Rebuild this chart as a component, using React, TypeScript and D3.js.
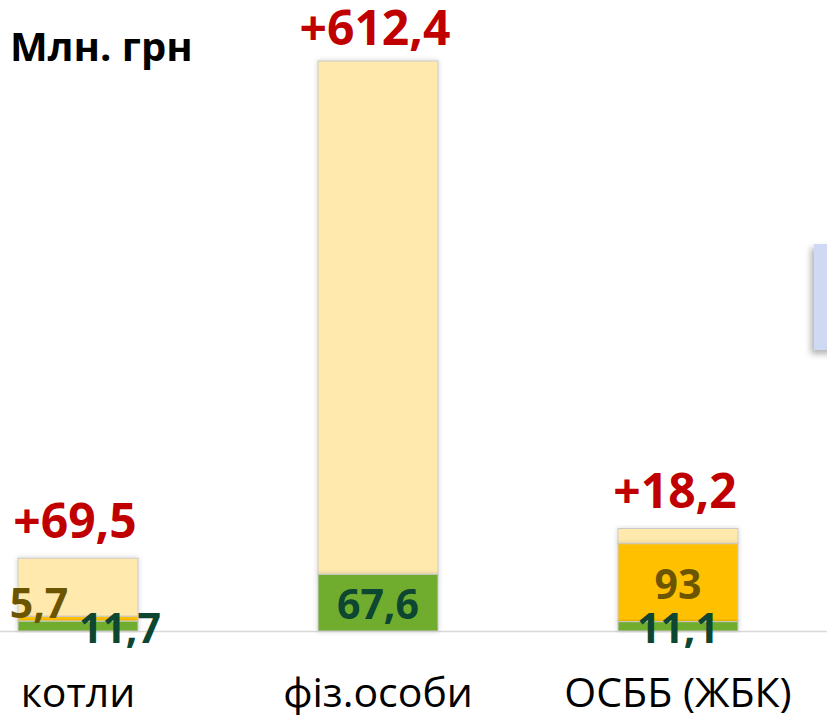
import React from "react";
import * as d3 from "d3";

const categories = ["котли", "фіз.особи", "ОСББ (ЖБК)"];
const greenValues = [11.7, 67.6, 11.1];
const goldValues = [5.7, 0, 93];
const increaseValues = [69.5, 612.4, 18.2];
const greenLabels = ["11,7", "67,6", "11,1"];
const goldLabels = ["5,7", "", "93"];
const increaseLabels = ["+69,5", "+612,4", "+18,2"];

const W = 827;
const H = 715;
const FONT = "'Open Sans', 'Noto Sans', sans-serif";

const App = () => {
  const x = d3.scaleBand<string>().domain(categories).range([-72, 828]).paddingInner(0.6).paddingOuter(0.3);
  const y = d3.scaleLinear().domain([0, 680]).range([631, 61]);

  const rows = categories.map((c, i) => {
    const g1 = greenValues[i];
    const o1 = g1 + goldValues[i];
    const t1 = o1 + increaseValues[i];
    return { c, i, segs: [
      { key: "inc", y0: o1, y1: t1, fill: "#ffe9ad" },
      { key: "gold", y0: g1, y1: o1, fill: "#ffc000" },
      { key: "green", y0: 0, y1: g1, fill: "#70ad2f" },
    ], g1, o1, t1 };
  });

  // small segments get their labels pushed aside
  const goldOffset = [{ dx: -39, dy: -16 }, { dx: 0, dy: 0 }, { dx: 0, dy: 2 }];
  const greenOffset = [{ dx: 42, dy: 2 }, { dx: 0, dy: 2 }, { dx: 0, dy: 2 }];

  return (
    <svg width={W} height={H} style={{ position: "absolute", left: 0, top: 0, background: "#fff" }}>
      <defs>
        <filter id="sh" x="-20%" y="-20%" width="140%" height="140%">
          <feDropShadow dx="0" dy="0" stdDeviation="2.5" floodColor="#000" floodOpacity="0.18" />
        </filter>
        <filter id="boxsh" x="-50%" y="-20%" width="200%" height="140%">
          <feDropShadow dx="-3" dy="4" stdDeviation="3" floodColor="#000" floodOpacity="0.3" />
        </filter>
      </defs>

      <rect x={814} y={244} width={40} height={106} fill="#cfd9f3" filter="url(#boxsh)" />

      <line x1={0} x2={W} y1={y(0) + 0.5} y2={y(0) + 0.5} stroke="#d9d9d9" strokeWidth={1.5} />

      {rows.map((r) => (
        <g key={r.c}>
          {r.segs.filter((s) => s.y1 > s.y0).map((s) => (
            <rect
              key={s.key}
              x={x(r.c)!}
              width={x.bandwidth()}
              y={y(s.y1)}
              height={y(s.y0) - y(s.y1)}
              fill={s.fill}
              stroke="#c9c9c9"
              strokeWidth={1}
              filter="url(#sh)"
            />
          ))}
        </g>
      ))}

      {rows.map((r) => {
        const cx = x(r.c)! + x.bandwidth() / 2;
        return (
          <g key={r.c + "l"} fontFamily={FONT} fontWeight="bold" textAnchor="middle">
            <text x={cx - 3} y={Math.max(y(r.t1) - 20, 45)} fontSize={48} fill="#c00000">
              {increaseLabels[r.i]}
            </text>
            {goldLabels[r.i] && (
              <text
                x={cx + goldOffset[r.i].dx}
                y={(y(r.g1) + y(r.o1)) / 2 + goldOffset[r.i].dy}
                dy="0.36em"
                fontSize={41}
                fill="#6b5500"
              >
                {goldLabels[r.i]}
              </text>
            )}
            <text
              x={cx + greenOffset[r.i].dx}
              y={(y(0) + y(r.g1)) / 2 + greenOffset[r.i].dy}
              dy="0.36em"
              fontSize={41}
              fill="#0d4631"
            >
              {greenLabels[r.i]}
            </text>
            <text x={cx} y={707} fontSize={41} fontWeight="normal" fill="#000">
              {r.c}
            </text>
          </g>
        );
      })}

      <text x={10} y={61} fontFamily={FONT} fontWeight="bold" fontSize={40} fill="#000">
        Млн. грн
      </text>
    </svg>
  );
};

export default App;
